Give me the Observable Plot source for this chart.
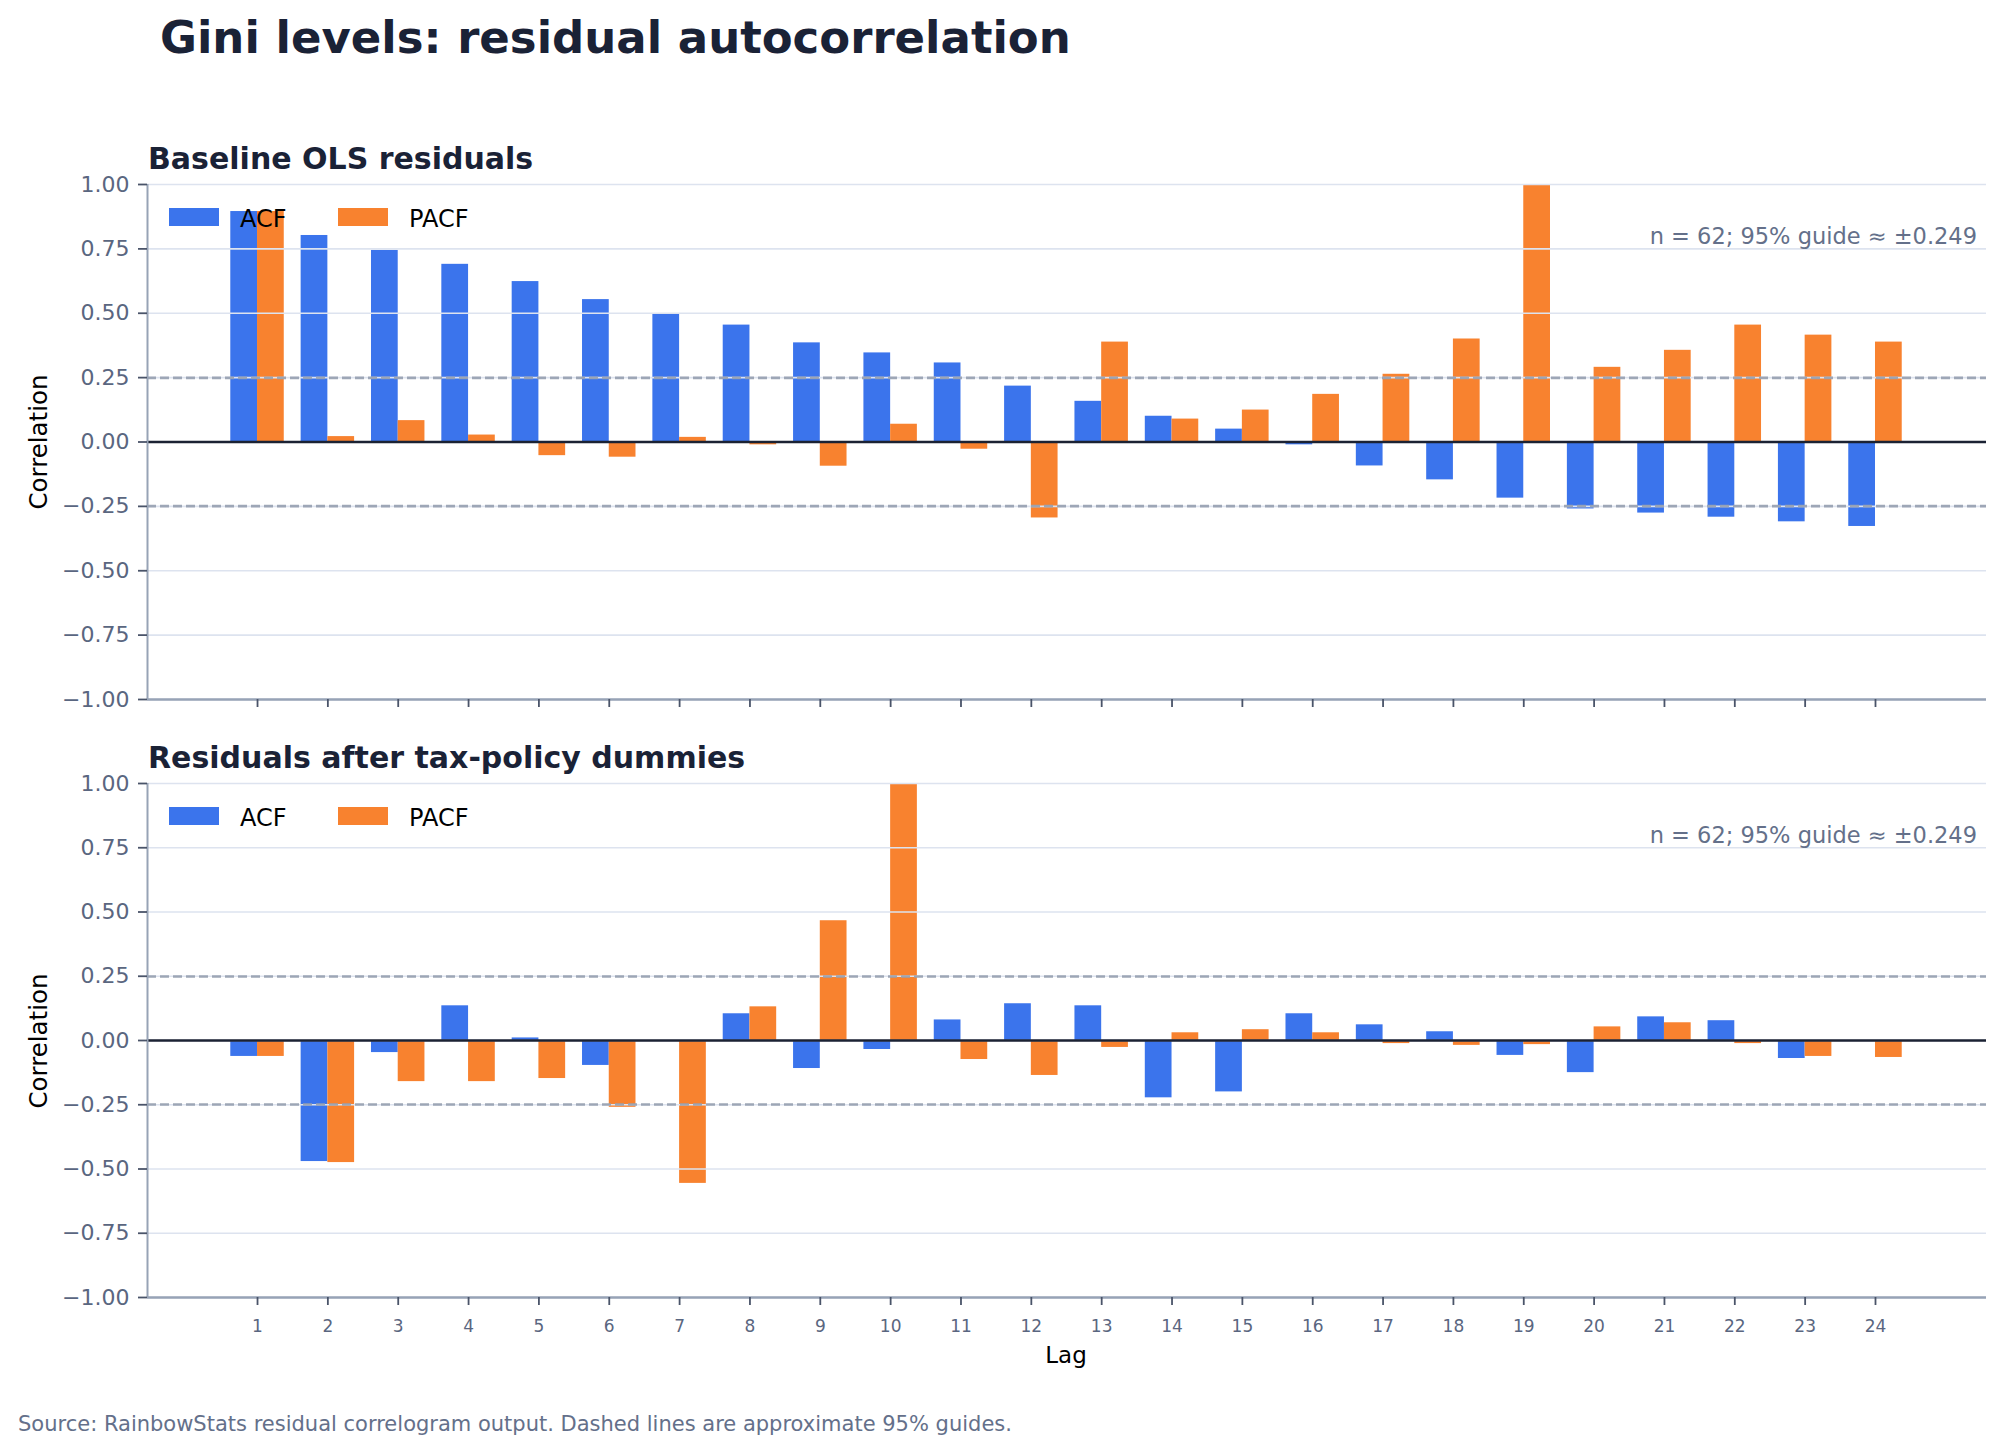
<!DOCTYPE html>
<html>
<head>
<meta charset="utf-8">
<script src="https://cdn.jsdelivr.net/npm/d3@7"></script>
<script src="https://cdn.jsdelivr.net/npm/@observablehq/plot@0.6"></script>
<style>
  html, body { margin: 0; padding: 0; background: #ffffff; }
  #root { position: relative; width: 2004px; height: 1454px; font-family: "DejaVu Sans", sans-serif; overflow: hidden; }
  .t { position: absolute; line-height: 1; white-space: nowrap; }
  .panel { position: absolute; left: 0; }
  .sw { position: absolute; }
</style>
</head>
<body>
<div id="root"></div>
<script>
// ---- data ----
const lags = [1, 2, 3, 4, 5, 6, 7, 8, 9, 10, 11, 12, 13, 14, 15, 16, 17, 18, 19, 20, 21, 22, 23, 24];
const acfBaseline  = [0.895, 0.802, 0.744, 0.690, 0.623, 0.553, 0.497, 0.454, 0.385, 0.346, 0.307, 0.217, 0.158, 0.100, 0.050, -0.011, -0.093, -0.147, -0.218, -0.260, -0.276, -0.292, -0.310, -0.328];
const pacfBaseline = [0.895, 0.021, 0.083, 0.027, -0.053, -0.059, 0.018, -0.011, -0.094, 0.069, -0.028, -0.295, 0.388, 0.089, 0.124, 0.185, 0.263, 0.400, 1.000, 0.290, 0.356, 0.454, 0.415, 0.388];
const acfDummies   = [-0.062, -0.471, -0.047, 0.135, 0.010, -0.097, 0.000, 0.104, -0.109, -0.035, 0.080, 0.143, 0.135, -0.223, -0.200, 0.104, 0.061, 0.034, -0.058, -0.125, 0.092, 0.077, -0.070, 0.000];
const pacfDummies  = [-0.062, -0.475, -0.160, -0.160, -0.148, -0.260, -0.556, 0.131, 0.466, 1.000, -0.074, -0.136, -0.027, 0.030, 0.042, 0.030, -0.012, -0.019, -0.016, 0.053, 0.069, -0.012, -0.062, -0.066];
const yTicks = [-1.00, -0.75, -0.50, -0.25, 0.00, 0.25, 0.50, 0.75, 1.00];
const nObs = 62;
const guide = 0.249;
const seriesNames = ["ACF", "PACF"];
const panelTitles = ["Baseline OLS residuals", "Residuals after tax-policy dummies"];
const titleText = "Gini levels: residual autocorrelation";
const sourceText = "Source: RainbowStats residual correlogram output. Dashed lines are approximate 95% guides.";

// ---- styles ----
const BLUE = "#3b74ec";
const ORANGE = "#f8822f";
const GRID = "#dde3ef";
const GUIDE = "#97a1b1";
const ZERO = "#1b2233";
const SPINE = "#97a3b6";
const TICKTXT = "#5a6680";
const DARK = "#1a2236";
const MUTED = "#64708a";
const xDomain = [-0.564, 25.578];
const BW = 0.38;

const root = document.getElementById("root");

function addText(txt, opts) {
  const d = document.createElement("div");
  d.className = "t";
  d.textContent = txt;
  const size = opts.size;
  d.style.fontSize = size + "px";
  d.style.color = opts.color || "#000";
  if (opts.bold) d.style.fontWeight = "bold";
  const top = opts.baseline - 0.846 * size;
  d.style.top = top + "px";
  if (opts.align === "right") {
    d.style.right = (2004 - opts.x) + "px";
  } else if (opts.align === "center") {
    d.style.left = opts.x + "px";
    d.style.transform = "translateX(-50%)";
  } else {
    d.style.left = opts.x + "px";
  }
  root.appendChild(d);
  return d;
}

function makePanel(acf, pacf, top, height, mTop, mBottom, showLabels) {
  const rows = lags.map((lag, i) => ({lag, acf: acf[i], pacf: pacf[i]}));
  const chart = Plot.plot({
    width: 2004,
    height: height,
    marginLeft: 147,
    marginRight: 18,
    marginTop: mTop,
    marginBottom: mBottom,
    x: {type: "linear", domain: xDomain, axis: null},
    y: {domain: [-1, 1], axis: null},
    style: {fontFamily: "DejaVu Sans", background: "transparent", overflow: "visible"},
    marks: [
      Plot.rectY(rows, {x1: d => d.lag - BW, x2: d => d.lag, y: "acf", fill: BLUE}),
      Plot.rectY(rows, {x1: d => d.lag, x2: d => d.lag + BW, y: "pacf", fill: ORANGE}),
      Plot.ruleY(yTicks, {stroke: GRID, strokeWidth: 1.6}),
      Plot.ruleY([guide, -guide], {stroke: GUIDE, strokeOpacity: 0.92, strokeWidth: 2.6, strokeDasharray: "9,4"}),
      Plot.ruleY([0], {stroke: ZERO, strokeWidth: 2.6}),
      Plot.ruleX([xDomain[0]], {stroke: SPINE, strokeWidth: 2}),
      Plot.ruleY([-1], {stroke: SPINE, strokeWidth: 2.4}),
      Plot.axisY(yTicks, {
        tickSize: 9, tickPadding: 9, fontSize: 22, label: null,
        stroke: "#4a5469", strokeWidth: 1.8, fill: TICKTXT,
        tickFormat: d3.format(".2f")
      }),
      Plot.axisX(lags, {
        tickSize: 8, tickPadding: 14, fontSize: 17, label: null,
        stroke: "#4a5469", strokeWidth: 1.8, fill: TICKTXT,
        tickFormat: showLabels ? (d => String(d)) : (() => "")
      })
    ]
  });
  const wrap = document.createElement("div");
  wrap.className = "panel";
  wrap.style.top = top + "px";
  wrap.appendChild(chart);
  root.appendChild(wrap);
}

// title
addText(titleText, {x: 160, baseline: 53, size: 45, bold: true, color: DARK});

const panels = [
  {acf: acfBaseline, pacf: pacfBaseline, top: 140, height: 600, mTop: 44, mBottom: 41, labels: false, frameTop: 184},
  {acf: acfDummies, pacf: pacfDummies, top: 740, height: 640, mTop: 43, mBottom: 83, labels: true, frameTop: 783}
];

panels.forEach((p, i) => {
  makePanel(p.acf, p.pacf, p.top, p.height, p.mTop, p.mBottom, p.labels);
  const ft = p.frameTop;
  // panel subtitle
  addText(panelTitles[i], {x: 148, baseline: ft - 15, size: 30, bold: true, color: DARK});
  // legend
  const colors = [BLUE, ORANGE];
  const swX = [169, 338];
  const txX = [240, 409];
  seriesNames.forEach((name, k) => {
    const s = document.createElement("div");
    s.className = "sw";
    s.style.left = swX[k] + "px";
    s.style.top = (ft + 24) + "px";
    s.style.width = "50px";
    s.style.height = "18px";
    s.style.background = colors[k];
    root.appendChild(s);
    addText(name, {x: txX[k], baseline: ft + 43, size: 24, color: "#000"});
  });
  // annotation
  addText("n = " + nObs + "; 95% guide \u2248 \u00b1" + guide.toFixed(3), {x: 1977, baseline: ft + 60, size: 22.5, color: MUTED, align: "right"});
  // y label
  const yl = document.createElement("div");
  yl.className = "t";
  yl.textContent = "Correlation";
  yl.style.fontSize = "24.5px";
  yl.style.color = "#000";
  yl.style.left = "39px";
  yl.style.top = (ft + 257.5) + "px";
  yl.style.transform = "translate(-50%, -50%) rotate(-90deg)";
  root.appendChild(yl);
});

// x label
addText("Lag", {x: 1066, baseline: 1363, size: 23, color: "#000", align: "center"});
// source
addText(sourceText, {x: 18, baseline: 1432, size: 21, color: MUTED});
</script>
</body>
</html>
